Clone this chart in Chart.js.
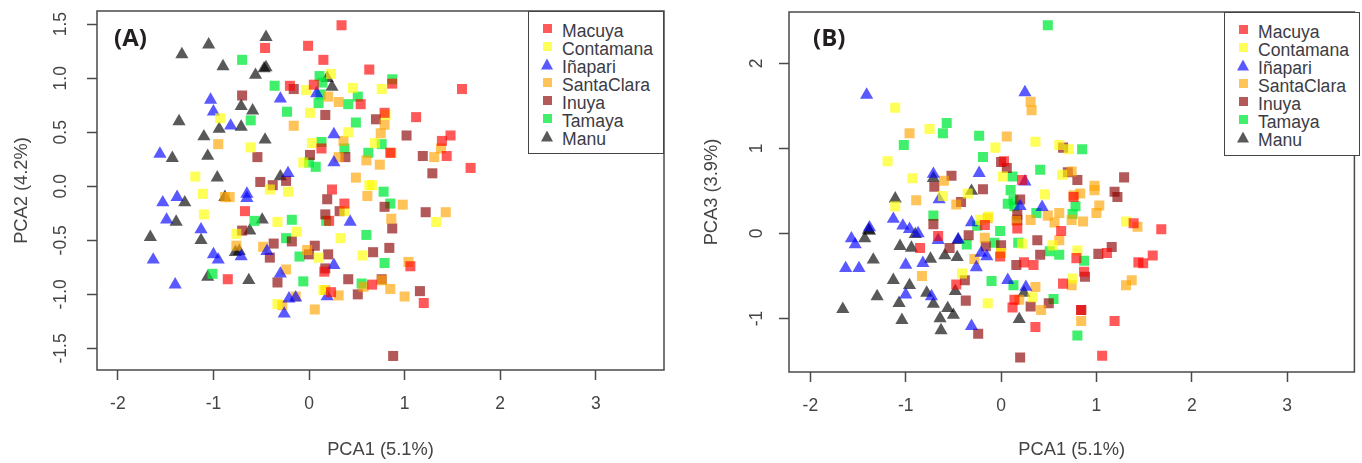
<!DOCTYPE html>
<html>
<head>
<meta charset="utf-8">
<title>PCA</title>
<script src="https://cdn.jsdelivr.net/npm/chart.js@4"></script>
<style>
  html, body { margin: 0; padding: 0; background: #fff; }
  body { position: relative; width: 1362px; height: 463px; overflow: hidden; font-family: "Liberation Sans", Arial, sans-serif; }
  .panel { position: absolute; top: 0; height: 463px; }
  .tag { position: absolute; font: bold 24px "Open Sans", sans-serif; color: #231f20; }
  .legend { position: absolute; box-sizing: border-box; border: 1.5px solid #444; background: #fff; }
  .legend div { position: absolute; left: 33px; font-size: 17.6px; line-height: 18px; color: #3c3c44; white-space: nowrap; }
  .legend i { position: absolute; left: -19px; top: 2.5px; width: 9px; height: 9px; }
  .legend i.tri { left: -21px; top: 1px; width: 12px; height: 11px; clip-path: polygon(50% 0, 100% 100%, 0 100%); }
</style>
</head>
<body>
<div class="panel" style="left:0;width:680px"><canvas id="pcaA"></canvas></div>
<div class="panel" style="left:690px;width:672px"><canvas id="pcaB"></canvas></div>
<div class="tag" style="left:114px;top:20px">(A)</div>
<div class="tag" style="left:813px;top:20px">(B)</div>
<script>
const sites = ['Macuya', 'Contamana', 'Iñapari', 'SantaClara', 'Inuya', 'Tamaya', 'Manu'];
const colors = ['rgba(255,0,0,.65)', 'rgba(255,255,0,.65)', 'rgba(0,0,255,.65)', 'rgba(255,165,0,.65)', 'rgba(139,0,0,.65)', 'rgba(0,235,60,.75)', 'rgba(0,0,0,.65)'];
const shapes = ['rect', 'rect', 'triangle', 'rect', 'rect', 'rect', 'triangle'];

const xTicks = [-2, -1, 0, 1, 2, 3];
const yTicksA = [-1.5, -1, -0.5, 0, 0.5, 1, 1.5];
const yTicksB = [-1, 0, 1, 2];

// panel A, PCA1 vs PCA2
const macuyaA = [[.34,1.49],[-.46,1.28],[-.01,1.30],[.15,1.17],[.63,1.08],[-.20,.93],[.05,.94],[.54,.76],[.79,.68],[.13,.35],[.24,-.03],[1.60,.90],[1.12,.64],[.87,.95],[1.39,.42],[1.48,.47],[1.44,.28],[1.69,.17],[.85,.31],[.37,-.16],[-.67,-.23],[.21,-.32],[.16,-.79],[-.85,-.86],[.66,-.91],[.23,-.98],[1.06,-.74],[1.20,-1.08]];
const contamanaA = [[.23,1.04],[-.03,.89],[.46,.91],[.76,.90],[.01,.68],[-.93,.63],[.41,.50],[.03,.40],[-.61,.36],[.69,.40],[-1.19,.09],[.63,.01],[-.06,.22],[-1.11,-.07],[-.22,-.05],[-.41,-.03],[.80,.66],[.66,.01],[-1.10,-.26],[-.33,-.33],[.37,-.23],[-.13,-.42],[-.76,-.44],[.33,-.48],[.10,-.66],[.56,-.64],[-.33,-1.09],[.15,-.96],[1.33,-.33]];
const inapariA = [[-1.03,.80],[-.30,.81],[-1.00,.69],[-.82,.56],[.08,.86],[.26,.48],[.26,.22],[-1.56,.30],[-.22,.12],[-.65,-.07],[-.65,-.11],[-1.38,-.10],[-1.53,-.15],[-1.49,-.31],[-1.13,-.40],[.43,-.33],[-1.63,-.68],[-1.00,-.63],[-.95,-.68],[-.71,-.65],[-.44,-.60],[.26,-.73],[-.30,-.81],[-1.40,-.91],[-.21,-1.04],[-.14,-1.03],[.19,-1.02],[-.26,-1.18]];
const santaClaraA = [[.20,.83],[.31,.78],[-.16,.56],[-.95,.39],[.79,.57],[.75,.49],[.36,.42],[.31,.27],[.60,.24],[.74,.20],[.49,.08],[.86,.31],[1.38,.35],[1.31,.27],[-.88,-.10],[-.83,-.10],[.61,-.09],[-.76,-.55],[-.48,-.56],[-.02,-.59],[-.24,-.77],[.17,-.96],[.31,-1.01],[-.14,-1.02],[-.28,-1.10],[.06,-1.14],[.76,-.87],[.85,-.95],[.57,-.93],[.98,-.17],[1.43,-.24],[.86,-.30],[1.04,-.70],[1.00,-1.02]];
const inuyaA = [[-.70,.84],[-.16,.90],[.17,.66],[.70,.62],[.01,.29],[.38,.27],[-.54,.27],[-.51,.04],[-.38,.01],[-.24,.05],[1.02,.47],[1.19,.28],[1.29,.12],[.19,-.12],[.17,-.26],[.32,-.23],[.79,-.19],[-.70,-.41],[-.37,-.53],[-.18,-.51],[.06,-.55],[0,-.63],[.20,-.63],[-.41,-.66],[.17,-.76],[-.33,-.89],[.41,-.86],[.51,-1.00],[1.22,-.24],[.87,-.39],[.84,-.57],[.67,-.61],[.76,-.86],[1.16,-.97],[.88,-1.57]];
const tamayaA = [[-.70,1.17],[.11,1.02],[.14,.96],[-.36,.93],[.12,.85],[.51,.83],[.41,.76],[.10,.77],[-.23,.69],[-.61,.61],[.49,.59],[.13,.41],[.37,.35],[.62,.31],[0,.22],[.07,.18],[.87,.99],[.76,.39],[.78,-.05],[-.57,-.32],[-.18,-.31],[.18,-.32],[-.24,-.48],[.60,-.45],[-.10,-.65],[-1.01,-.81],[-.06,-.88],[.55,-.90],[.85,-.16],[.79,-.71]];
const manuA = [[-.45,1.38],[-1.05,1.31],[-1.33,1.22],[-.90,1.11],[-.45,1.10],[-.47,1.09],[-.56,1.03],[.19,1.00],[.24,.92],[-.71,.74],[-.59,.70],[-1.36,.60],[-.71,.55],[-.94,.53],[-1.10,.46],[-.46,.43],[-1.06,.28],[-1.43,.26],[-.96,.08],[-.30,.09],[-1.30,-.15],[-1.39,-.33],[-.49,-.31],[-1.66,-.47],[-1.13,-.50],[-.62,-.41],[-.73,-.60],[-.77,-.61],[-1.06,-.84],[-.63,-.87],[-.88,-.10]];

// panel B, PCA1 vs PCA3
const macuyaB = [[.03,.85],[.22,.63],[-.66,-.03],[-.85,-.17],[.17,.06],[-.17,.10],[-.01,-.27],[.24,-.34],[.34,-.37],[-.47,-.60],[.65,-.59],[.14,-.78],[.12,-.87],[.36,-1.10],[.79,-.29],[.76,.43],[.63,.03],[1.68,.05],[1.11,-.23],[1.59,-.26],[1.44,-.34],[1.49,-.35],[.87,-.45],[1.19,-1.03],[1.06,-1.44],[1.39,.12],[.84,-.90]];
const contamanaB = [[-1.11,1.48],[-.75,1.23],[-1.19,.85],[-.93,.65],[-.06,1.01],[.36,1.08],[.61,1.04],[.71,.99],[.02,.67],[.64,.69],[-1.11,.32],[-.61,.44],[.46,.46],[-.35,.47],[-.22,.16],[-.13,.20],[0,-.23],[.22,-.12],[-.41,-.47],[.54,-.14],[.33,-.75],[-.14,-.82],[.80,-.20],[.75,-.53],[1.31,.14]];
const inapariB = [[-1.41,1.63],[.25,1.66],[-.23,.71],[.25,.61],[-.71,.70],[-.65,.40],[.20,.32],[.43,.31],[-1.13,.17],[-1.03,.09],[-.96,.05],[-.87,0],[-.31,.13],[-1.38,.07],[-1.57,-.06],[-1.53,-.13],[-.66,-.08],[-.45,-.07],[-.21,-.23],[-.15,-.27],[-.82,-.35],[-1.00,-.37],[-.26,-.40],[-1.63,-.41],[-1.49,-.41],[.07,-.55],[.26,-.63],[-1.00,-.72],[-.73,-.74],[-.31,-1.09]];
const santaClaraB = [[.31,1.55],[.32,1.45],[-.96,1.18],[-.60,.62],[.06,1.14],[.74,.73],[.98,.56],[.83,.47],[.76,.45],[-.89,.39],[-.47,.34],[.31,.16],[-.14,.18],[.16,.15],[-.17,-.05],[-.28,-.30],[-.83,-.50],[.49,.21],[.61,.24],[.56,.13],[.74,.16],[.86,.14],[.61,-.08],[.36,-.63],[.74,-.61],[.19,-.78],[.42,-.90],[.84,-1.03],[0,-.23],[1.03,.33],[1.00,.24],[1.43,.08],[1.37,-.55],[1.31,-.61],[.98,.51]];
const inuyaB = [[-.52,.68],[-.70,.55],[-.19,.52],[0,.84],[.06,.77],[.65,1.01],[.70,.72],[.80,.63],[1.29,.66],[1.19,.49],[-.42,.37],[.20,.40],[.17,.16],[-.71,.11],[.17,.22],[-.34,-.02],[-.54,-.17],[-.16,-.15],[0,-.14],[.38,-.08],[.41,-.25],[.16,-.37],[-.38,-.55],[-.37,-.79],[.31,-.86],[.50,-.82],[-.24,-1.18],[.20,-1.46],[1.22,.43],[1.02,-.24],[1.16,-.16],[.88,-.51],[.84,-.90]];
const tamayaB = [[.49,2.45],[-.57,1.30],[-.61,1.18],[-1.02,1.04],[-.23,1.15],[-.19,.90],[.41,.75],[.12,.67],[.10,.51],[.85,.99],[.07,.35],[.13,.39],[.14,.32],[.37,.24],[-.71,.21],[-.25,.09],[-.01,.03],[-.07,-.11],[-.36,-.13],[.18,-.11],[.51,-.21],[.61,-.25],[-.10,-.56],[.13,-.61],[.55,-.77],[.80,-1.20],[.75,.23],[.78,.32],[.87,-.32]];
const manuB = [[-.71,.65],[-.31,.50],[-1.11,.41],[-1.38,.03],[-1.39,.04],[-1.43,-.06],[-.90,-.01],[-1.06,-.15],[-.94,-.17],[-.45,-.08],[-1.34,-.31],[-.74,-.30],[-.59,-.26],[-.46,-.28],[-1.13,-.55],[-.96,-.61],[-1.30,-.74],[-.78,-.70],[-1.07,-.82],[-.71,-.83],[-.48,-.68],[.24,-.70],[-1.66,-.89],[-.56,-.88],[-.64,-1.00],[-.50,-.96],[-1.04,-1.02],[.19,-1.01],[-.63,-1.14]];

const seriesA = [macuyaA, contamanaA, inapariA, santaClaraA, inuyaA, tamayaA, manuA];
const seriesB = [macuyaB, contamanaB, inapariB, santaClaraB, inuyaB, tamayaB, manuB];

const textColor = '#444';
const lineColor = '#4a4a4a';

// R style box round the plot
const boxPlugin = {
  id: 'plotBox',
  afterDatasetsDraw(chart) {
    const { ctx, chartArea: a } = chart;
    ctx.save();
    ctx.strokeStyle = lineColor;
    ctx.lineWidth = 1.5;
    ctx.strokeRect(a.left, a.top, a.right - a.left, a.bottom - a.top);
    ctx.restore();
  }
};

// tick labels must not push the plot area in, the box is placed by hand
const noScalePadding = s => { s.paddingTop = s.paddingBottom = s.paddingLeft = s.paddingRight = 0; };

function makeChart(id, series, yTicks, p) {
  new Chart(document.getElementById(id), {
    type: 'scatter',
    data: {
      datasets: series.map((pts, i) => ({
        label: sites[i],
        data: pts.map(v => ({ x: v[0], y: v[1] })),
        pointStyle: shapes[i],
        pointRadius: shapes[i] === 'rect' ? 7.1 : 7.6,
        backgroundColor: colors[i],
        borderWidth: 0
      }))
    },
    plugins: [boxPlugin],
    options: {
      responsive: false,
      animation: false,
      layout: { padding: { top: p.top, right: p.right, left: 0, bottom: 0 } },
      plugins: { legend: { display: false }, tooltip: { enabled: false } },
      scales: {
        x: {
          min: p.xMin, max: p.xMax,
          afterBuildTicks: s => { s.ticks = xTicks.map(value => ({ value })); },
          afterFit: s => { s.height = p.xHeight; noScalePadding(s); },
          border: { display: false },
          grid: { drawOnChartArea: false, tickLength: 10, tickColor: lineColor, tickWidth: 1.5 },
          ticks: { color: textColor, font: { size: 17.5 }, padding: 14, maxRotation: 0, minRotation: 0, autoSkip: false },
          title: { display: true, text: 'PCA1 (5.1%)', color: textColor, font: { size: 18.3 }, padding: { top: 2, bottom: 2 } }
        },
        y: {
          min: p.yMin, max: p.yMax,
          afterBuildTicks: s => { s.ticks = yTicks.map(value => ({ value })); },
          afterFit: s => { s.width = p.yWidth; noScalePadding(s); },
          border: { display: false },
          grid: { drawOnChartArea: false, tickLength: 10, tickColor: lineColor, tickWidth: 1.5 },
          ticks: {
            color: textColor, font: { size: 17.5 }, padding: p.yPad, crossAlign: 'center',
            minRotation: 90, maxRotation: 90, autoSkip: false,
            callback: v => p.fixed ? v.toFixed(1) : String(v)
          },
          title: { display: true, text: p.yTitle, color: textColor, font: { size: 18.3 }, padding: { top: 11, bottom: 0 } }
        }
      }
    }
  });
}

function makeLegend(left, top, width, height) {
  const box = document.createElement('div');
  box.className = 'legend';
  box.style.cssText = `left:${left}px;top:${top}px;width:${width}px;height:${height}px`;
  sites.forEach((name, i) => {
    const row = document.createElement('div');
    row.style.top = (9.5 + i * 18) + 'px';
    row.textContent = name;
    const mark = document.createElement('i');
    mark.style.background = colors[i];
    if (shapes[i] === 'triangle') mark.className = 'tri';
    row.appendChild(mark);
    box.appendChild(row);
  });
  document.body.appendChild(box);
}

const sizeCanvas = (id, w) => { const c = document.getElementById(id); c.width = w; c.height = 463; };
sizeCanvas('pcaA', 680);
sizeCanvas('pcaB', 672);

makeChart('pcaA', seriesA, yTicksA, { top: 11, right: 16, xHeight: 93, yWidth: 97, yPad: 11, fixed: true, yTitle: 'PCA2 (4.2%)', xMin: -2.218, xMax: 3.713, yMin: -1.70, yMax: 1.622 });
makeChart('pcaB', seriesB, yTicksB, { top: 12, right: 2, xHeight: 91, yWidth: 99, yPad: 14, fixed: false, yTitle: 'PCA3 (3.9%)', xMin: -2.224, xMax: 3.705, yMin: -1.63, yMax: 2.606 });

makeLegend(528, 11, 136, 143);
makeLegend(1224, 12, 136, 144);
</script>
</body>
</html>
